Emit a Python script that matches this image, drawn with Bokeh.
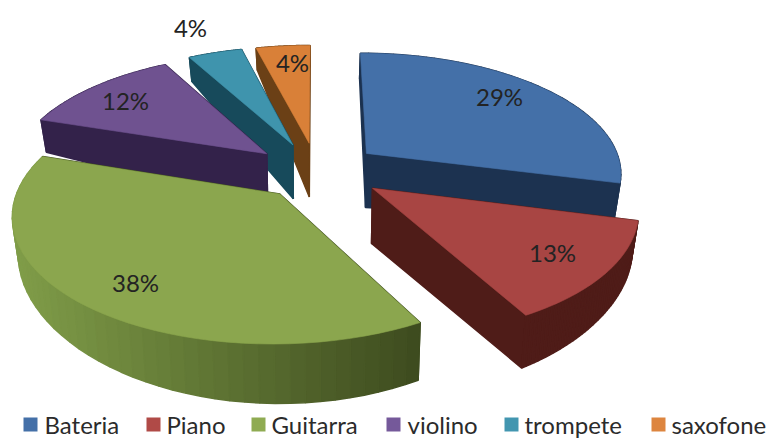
from bokeh.plotting import figure
from bokeh.models import Range1d
from bokeh.core.properties import value
from bokeh.embed import file_html
from bokeh.resources import INLINE
import math

categories = ["Bateria", "Piano", "Guitarra", "violino", "trompete", "saxofone"]
values = [29, 13, 38, 12, 4, 4]
labels = ["29%", "13%", "38%", "12%", "4%", "4%"]

top_colors = ["#4470a8", "#a84543", "#8ba64e", "#6f5290", "#3f94ad", "#d98038"]
wall_light = ["#1c3250", "#4f1c18", "#7f9c48", "#33224a", "#174a5b", "#6b4016"]
wall_dark = ["#1c3250", "#4f1c18", "#3e4c1f", "#33224a", "#174a5b", "#6b4016"]
side_colors = ["#1c3250", "#4f1c18", "#3e4c1f", "#33224a", "#174a5b", "#6b4016"]
legend_colors = ["#4470a8", "#b04a47", "#8fab52", "#75599a", "#4296b0", "#dd853f"]

# layout of the tilted pie (page pixels)
CX, CY, RX, RY, PERSP, EXPLODE = 317, 170, 256, 120, 0.15, 0.237
nudge_x = [2, 6, 2, -5, -3, -1]
nudge_y = [0, 0, 1, 1, 0, 0]
label_pos = [(499, 96), (552, 252), (135, 282), (125, 100), (190, 27), (292, 62)]
legend_x = [30, 153, 258, 393, 511, 658]
legend_text_x = [44, 166, 271, 407, 524, 671]
legend_y = 424
draw_order = [5, 4, 3, 0, 2, 1]
W, H = 768, 439


def project(X, Y):
    s = 1 / (1 + PERSP * Y)
    return CX + RX * X * s, CY - RY * Y * s


def drop(X, Y):
    sx, sy = project(X, Y)
    d = 55 - 14 * X * X - 22 * max(0, Y) ** 2 + 4 * max(0, -Y)
    return CX + (sx - CX) * 0.98, sy + d


def mix(c1, c2, t):
    a = [int(c1[i:i + 2], 16) for i in (1, 3, 5)]
    b = [int(c2[i:i + 2], 16) for i in (1, 3, 5)]
    return "#%02x%02x%02x" % tuple(round(u + (v - u) * t) for u, v in zip(a, b))


p = figure(width=W, height=H, x_range=Range1d(0, W), y_range=Range1d(H, 0),
           toolbar_location=None, output_backend="svg", min_border=0)
p.axis.visible = False
p.grid.visible = False
p.outline_line_color = None

total = sum(values)
starts = [sum(values[:i]) / total * 2 * math.pi for i in range(len(values))]

for i in draw_order:
    a0 = starts[i]
    a1 = a0 + values[i] / total * 2 * math.pi
    mid = (a0 + a1) / 2
    ax, ay = EXPLODE * math.sin(mid), EXPLODE * math.cos(mid)
    n = 48
    rim = [(ax + math.sin(a0 + (a1 - a0) * k / n), ay + math.cos(a0 + (a1 - a0) * k / n))
           for k in range(n + 1)]
    dx, dy = nudge_x[i], nudge_y[i]

    faces = []
    for q, other in ((rim[0], (ax, ay)), (rim[-1], (ax, ay))):
        faces.append(((q[1] + other[1]) / 2, [q, other], side_colors[i]))
    for k in range(n):
        m = (rim[k], rim[k + 1])
        sx = project(*m[0])[0]
        t = min(1, max(0, (sx - 20) / 400))
        faces.append(((m[0][1] + m[1][1]) / 2, list(m), mix(wall_light[i], wall_dark[i], t)))
    faces.sort(key=lambda f: -f[0])
    for _, (q1, q2), col in faces:
        t1, t2, b2, b1 = project(*q1), project(*q2), drop(*q2), drop(*q1)
        p.patch([t1[0] + dx, t2[0] + dx, b2[0] + dx, b1[0] + dx],
                [t1[1] + dy, t2[1] + dy, b2[1] + dy, b1[1] + dy],
                fill_color=col, line_color=col, line_width=1.5)

    pts = [project(ax, ay)] + [project(*r) for r in rim]
    p.patch([q[0] + dx for q in pts], [q[1] + dy for q in pts], fill_color=top_colors[i],
            line_color=top_colors[i], line_width=0.6)

p.text([q[0] for q in label_pos], [q[1] for q in label_pos], text=labels,
       text_font=value("Lato"), text_font_size="24px", text_color="#232323",
       text_align="center", text_baseline="middle")

p.scatter(legend_x, [legend_y] * len(legend_x), marker="square", size=14,
          fill_color=legend_colors, line_color=None)
p.text(legend_text_x, [legend_y] * len(legend_x), text=categories,
       text_font=value("Lato"), text_font_size="24px", text_color="#2b2b2b",
       text_align="left", text_baseline="middle")

open("out.html", "w").write(file_html(p, INLINE))
